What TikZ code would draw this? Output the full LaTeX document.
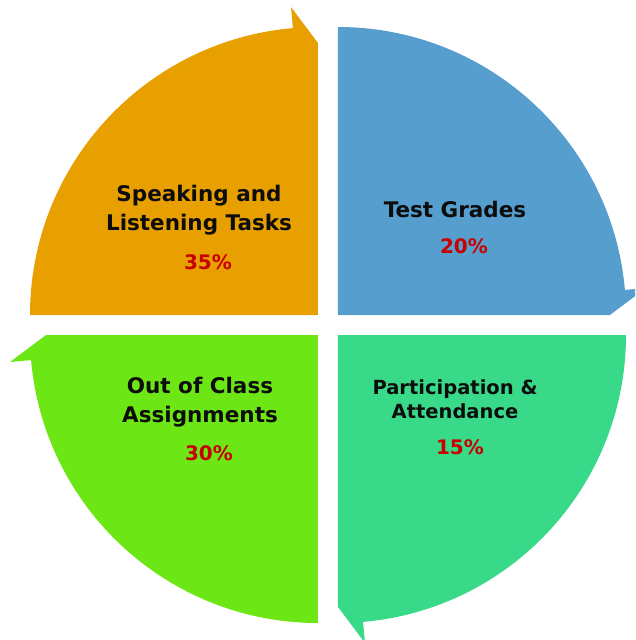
\documentclass[tikz,border=0pt]{standalone}
\usepackage{fontspec}
\setmainfont{DejaVu Sans}
\usepackage{tikz}
\usetikzlibrary{calc,positioning}
\definecolor{segorange}{RGB}{232,160,0}
\definecolor{segblue}{RGB}{86,158,206}
\definecolor{segteal}{RGB}{56,217,136}
\definecolor{seglime}{RGB}{108,230,20}
\definecolor{pctred}{RGB}{200,0,0}

\begin{document}
\begin{tikzpicture}[
  x=1pt, y=1pt,
  title/.style={align=center, font=\fontsize{21.5}{28.5}\selectfont\bfseries,
                text=black!95, inner sep=0pt},
  pct/.style={font=\fontsize{20}{24}\selectfont\bfseries, text=pctred,
              inner sep=0pt},
  node distance=14pt
]
\useasboundingbox (-328,-315) rectangle (307,325);
\clip (-328,-315) rectangle (307,325);

% ── Four quarter arrows, turning clockwise ──
\foreach \rot/\col in {0/segorange, -90/segblue, -180/segteal, -270/seglime}
  \fill[\col, rotate=\rot] (-10,10) -- (-298,10)
    arc[start angle=180, end angle=95, radius=288]
    -- ($(-10,10)+(95:309)$) -- (-10,282) -- cycle;

% ── Labels ──
\node[title] at (-129,115) (speak) {Speaking and\\Listening Tasks};
\node[pct, below=20pt of speak, xshift=9pt] (speakpct) {35\%};

\node[title] at (127,116) (test) {Test Grades};
\node[pct, below=21pt of test, xshift=9pt] (testpct) {20\%};

\node[title, font=\fontsize{19.5}{24}\selectfont\bfseries] at (127,-74) (part)
  {Participation \&\\Attendance};
\node[pct, below=21pt of part, xshift=5pt] (partpct) {15\%};

\node[title] at (-128,-77) (out) {Out of Class\\Assignments};
\node[pct, below=19pt of out, xshift=9pt] (outpct) {30\%};

\end{tikzpicture}
\end{document}
